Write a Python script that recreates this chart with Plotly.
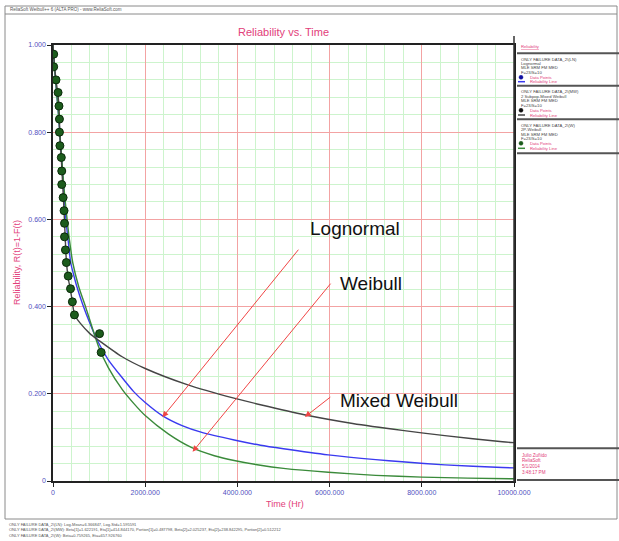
import plotly.graph_objects as go

# ---------------- data ----------------
data_time = [15, 15, 65, 110, 130, 140, 140, 150, 180, 190, 190, 220, 240, 250, 250,
             270, 290, 330, 380, 420, 465, 1010, 1045]
data_rel = [0.979, 0.950, 0.920, 0.891, 0.860, 0.830, 0.800, 0.769, 0.742, 0.711, 0.680,
            0.650, 0.620, 0.591, 0.560, 0.530, 0.501, 0.470, 0.441, 0.411, 0.381, 0.338, 0.295]

logn_time = [0, 15, 40, 80, 120, 160, 200, 240, 280, 330, 385, 450, 520, 645, 800, 950,
             1200, 1500, 1750, 2000, 2370, 2800, 3210, 3930, 4500, 5000, 5970, 7000, 7575,
             8500, 9750, 10000]
logn_rel = [1.0, 0.975, 0.94, 0.89, 0.84, 0.78, 0.72, 0.66, 0.60, 0.55, 0.50, 0.472, 0.445,
            0.405, 0.362, 0.325, 0.278, 0.237, 0.205, 0.180, 0.150, 0.127, 0.112, 0.094,
            0.082, 0.074, 0.060, 0.049, 0.044, 0.037, 0.031, 0.030]

weib_time = [0, 15, 40, 80, 120, 160, 200, 240, 305, 360, 430, 560, 705, 850, 1000, 1200,
             1500, 1750, 2000, 2500, 3000, 3500, 3930, 4500, 5000, 5970, 7000, 8000, 9000, 10000]
weib_rel = [1.0, 0.975, 0.94, 0.89, 0.84, 0.78, 0.725, 0.67, 0.60, 0.55, 0.50, 0.445, 0.40,
            0.352, 0.305, 0.26, 0.21, 0.178, 0.150, 0.108, 0.077, 0.058, 0.047, 0.036,
            0.029, 0.020, 0.013, 0.009, 0.0065, 0.005]

mix_time = [0, 15, 40, 70, 110, 135, 150, 180, 200, 230, 260, 290, 330, 380, 420, 470, 590,
            800, 1000, 1500, 2000, 2910, 3925, 4500, 5450, 6500, 7575, 8500, 9750, 10000]
mix_rel = [1.0, 0.975, 0.945, 0.915, 0.885, 0.845, 0.79, 0.74, 0.70, 0.64, 0.57, 0.505,
           0.465, 0.438, 0.41, 0.38, 0.362, 0.338, 0.322, 0.285, 0.258, 0.221, 0.19, 0.175,
           0.152, 0.132, 0.116, 0.104, 0.090, 0.088]

x_tickvals = [0, 2000, 4000, 6000, 8000, 10000]
x_ticktext = ["0", "2000.000", "4000.000", "6000.000", "8000.000", "10000.000"]
y_tickvals = [0, 0.2, 0.4, 0.6, 0.8, 1.0]
y_ticktext = ["0", "0.200", "0.400", "0.600", "0.800", "1.000"]

bottom_lines = [
    "ONLY FAILURE DATA_2\\(LN): Log-Mean=6.366847, Log-Std=1.595591",
    "ONLY FAILURE DATA_2\\(MW): Beta[1]=1.622191, Eta[1]=414.844170, Portion[1]=0.487798, Beta[2]=2.025237, Eta[2]=238.842295, Portion[2]=0.512212",
    "ONLY FAILURE DATA_2\\(W): Beta=0.759265, Eta=657.926760",
]

# ---------------- layout helpers ----------------
W, H = 619, 541
L, RM, T, B = 53, 105, 45, 60
PW = W - L - RM
PH = H - T - B
FONT = "Liberation Sans"
PINK = "#e2407a"
TICKBLUE = "#5050c0"
GRAY = "#444444"


def px(x):
    return (x - L) / PW


def py(y):
    return (H - B - y) / PH


def txt(s, x, y, size, color, xanchor="left", angle=0):
    return dict(text=s, x=px(x), y=py(y), xref="paper", yref="paper", showarrow=False,
                xanchor=xanchor, yanchor="middle", textangle=angle,
                font=dict(size=size, color=color, family=FONT))


def hline(x0, x1, y, color, width):
    return dict(type="line", xref="paper", yref="paper", x0=px(x0), x1=px(x1),
                y0=py(y), y1=py(y), line=dict(color=color, width=width), layer="above")


def vline(x, y0, y1, color, width):
    return dict(type="line", xref="paper", yref="paper", x0=px(x), x1=px(x),
                y0=py(y0), y1=py(y1), line=dict(color=color, width=width), layer="above")


fig = go.Figure()
fig.add_trace(go.Scatter(x=logn_time, y=logn_rel, mode="lines", line=dict(color="#3a3af0", width=1.4, shape="spline", smoothing=0.6), hoverinfo="skip"))
fig.add_trace(go.Scatter(x=weib_time, y=weib_rel, mode="lines", line=dict(color="#3a8a3a", width=1.4, shape="spline", smoothing=0.6), hoverinfo="skip"))
fig.add_trace(go.Scatter(x=mix_time, y=mix_rel, mode="lines", line=dict(color="#454545", width=1.4, shape="spline", smoothing=0.6), hoverinfo="skip"))
fig.add_trace(go.Scatter(x=data_time, y=data_rel, mode="markers",
                         marker=dict(size=8, color="#1c5c1c", line=dict(color="#0a2a0a", width=1)),
                         hoverinfo="skip"))

annotations = []
# title / axis titles
annotations.append(txt("Reliability vs. Time", 283, 32, 11, PINK, "center"))
annotations.append(txt("Time (Hr)", 285, 504, 9, PINK, "center"))
annotations.append(txt("Reliability, R(t)=1-F(t)", 17, 263, 9, PINK, "center", angle=-90))
annotations.append(txt("ReliaSoft Weibull++ 6 (ALTA PRO) - www.ReliaSoft.com", 8, 10, 4.5, "#555555"))

# callouts
annotations.append(txt("Lognormal", 308, 228, 19, "#111111"))
annotations.append(txt("Weibull", 338, 283, 19, "#111111"))
annotations.append(txt("Mixed Weibull", 338, 400, 19, "#111111"))
for (tip_t, tip_r, tail_t, tail_r) in [(2373, 0.146, 5350, 0.534), (3028, 0.067, 6048, 0.456), (5465, 0.147, 6048, 0.195)]:
    annotations.append(dict(x=tip_t, y=tip_r, ax=tail_t, ay=tail_r, xref="x", yref="y",
                            axref="x", ayref="y", text="", showarrow=True, arrowhead=2,
                            arrowsize=1.2, arrowwidth=1, arrowcolor="#f04545", standoff=0))

# legend panel texts
legend_rows = [
    ("<u>Reliability</u>", 519, 47, PINK),
    ("ONLY FAILURE DATA_2\\(LN)", 519, 59, GRAY),
    ("Lognormal", 519, 63.3, GRAY),
    ("MLE SRM FM MED", 519, 67.6, GRAY),
    ("F=23/S=10", 519, 72.3, GRAY),
    ("Data Points", 528, 77.3, PINK),
    ("Reliability Line", 528, 81.7, PINK),
    ("ONLY FAILURE DATA_2\\(MW)", 519, 91.7, GRAY),
    ("2 Subpop-Mixed Weibull", 519, 96, GRAY),
    ("MLE SRM FM MED", 519, 100.3, GRAY),
    ("F=23/S=10", 519, 105.5, GRAY),
    ("Data Points", 528, 110.3, PINK),
    ("Reliability Line", 528, 115, PINK),
    ("ONLY FAILURE DATA_2\\(W)", 519, 125.7, GRAY),
    ("2P-Weibull", 519, 129.8, GRAY),
    ("MLE SRM FM MED", 519, 134, GRAY),
    ("F=23/S=10", 519, 138.7, GRAY),
    ("Data Points", 528, 143.3, PINK),
    ("Reliability Line", 528, 148.3, PINK),
]
for s, x, y, c in legend_rows:
    annotations.append(txt(s, x, y, 4.2, c))

date_rows = [
    ("Julio Zuñido", 520, 455),
    ("ReliaSoft", 520, 460.7),
    ("5/1/2014", 520, 466.7),
    ("3:48:17 PM", 520, 472.3),
]
for s, x, y in date_rows:
    annotations.append(txt(s, x, y, 4.6, PINK))

for i, s in enumerate(bottom_lines):
    annotations.append(txt(s, 7, 524 + 5.5 * i, 4, "#555555"))

shapes = []
# outer frame
shapes.append(dict(type="rect", xref="paper", yref="paper", x0=px(5), x1=px(617), y0=py(6), y1=py(519),
                   line=dict(color="#8a8a8a", width=1), layer="above"))
shapes.append(hline(5, 617, 14, "#8a8a8a", 1))
# legend panel lines
shapes.append(vline(514, 36, 482, "#333333", 1.5))
for y in [53.3, 85.7, 119.3, 153.3, 448.3, 480]:
    shapes.append(hline(517, 619, y, "#555555", 2))
# legend symbols
for y_dot, y_line, col_dot, col_line in [(77.3, 81.7, "#1010a0", "#3a3af0"),
                                         (110.3, 115, "#111111", "#454545"),
                                         (143.3, 148.3, "#1c5c1c", "#3a8a3a")]:
    shapes.append(dict(type="circle", xref="paper", yref="paper", x0=px(519), x1=px(523),
                       y0=py(y_dot + 2), y1=py(y_dot - 2), fillcolor=col_dot,
                       line=dict(color=col_dot, width=0.5), layer="above"))
    shapes.append(hline(518, 525, y_line, col_line, 1.5))

fig.update_layout(
    width=W, height=H,
    margin=dict(l=L, r=RM, t=T, b=B, pad=0),
    paper_bgcolor="white", plot_bgcolor="white",
    showlegend=False,
    annotations=annotations,
    shapes=shapes,
    xaxis=dict(range=[0, 10000], tickvals=x_tickvals, ticktext=x_ticktext,
               showgrid=True, gridcolor="#f3a3a3", gridwidth=1,
               minor=dict(dtick=400, tick0=0, showgrid=True, gridcolor="#cdf4cd", gridwidth=1),
               zeroline=False, showline=True, linecolor="#222222", linewidth=1.5, mirror=True,
               ticks="outside", ticklen=4, tickcolor="#222222",
               tickfont=dict(size=7, color=TICKBLUE, family=FONT)),
    yaxis=dict(range=[0, 1], tickvals=y_tickvals, ticktext=y_ticktext,
               showgrid=True, gridcolor="#f3a3a3", gridwidth=1,
               minor=dict(dtick=0.04, tick0=0, showgrid=True, gridcolor="#cdf4cd", gridwidth=1),
               zeroline=False, showline=True, linecolor="#222222", linewidth=1.5, mirror=True,
               ticks="outside", ticklen=4, tickcolor="#222222",
               tickfont=dict(size=7, color=TICKBLUE, family=FONT)),
)

fig.write_html("out.html")
